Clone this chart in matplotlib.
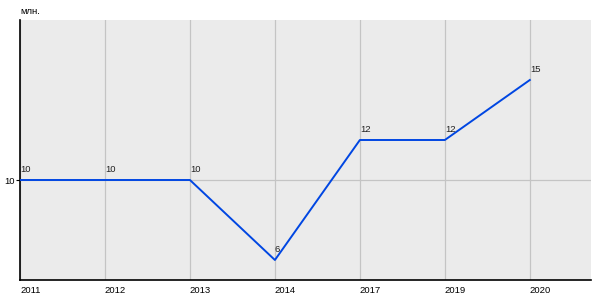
import matplotlib
matplotlib.use('Agg')
import matplotlib.pyplot as plt

# chart values
years = ['2011', '2012', '2013', '2014', '2017', '2019', '2020']
values = [10, 10, 10, 6, 12, 12, 15]
unit = 'млн.'

plt.rcParams['font.family'] = ['Liberation Sans', 'DejaVu Sans']

fig = plt.figure(figsize=(6, 3), dpi=100)
ax = fig.add_axes([20 / 600, 20 / 300, 571 / 600, 260 / 300])
ax.set_facecolor('#ebebeb')

x = list(range(len(years)))
ax.plot(x, values, color='#0046e2', linewidth=1.4, zorder=3)

for xi, v in zip(x, values):
    ax.annotate(str(v), (xi, v), xytext=(0, 4), textcoords='offset points',
                ha='left', va='bottom', fontsize=6.8, color='#222222')

ax.set_xlim(0, 6.72)
ax.set_ylim(5, 18)
ax.set_xticks(x)
ax.set_xticklabels(years, ha='left', fontsize=6.8)
ax.set_yticks([10])
ax.set_yticklabels(['10'], fontsize=6.8)
ax.tick_params(axis='x', length=0, pad=4)
ax.tick_params(axis='y', length=3, pad=1)
ax.grid(True, color='#c4c4c4', linewidth=0.9)
ax.set_axisbelow(True)

for side in ['top', 'right']:
    ax.spines[side].set_visible(False)
for side in ['left', 'bottom']:
    ax.spines[side].set_color('black')
    ax.spines[side].set_linewidth(1.2)

fig.text(20 / 600, 1 - 11 / 300, unit, fontsize=6.8, ha='left', va='center')

fig.savefig('out.png', dpi=100)
